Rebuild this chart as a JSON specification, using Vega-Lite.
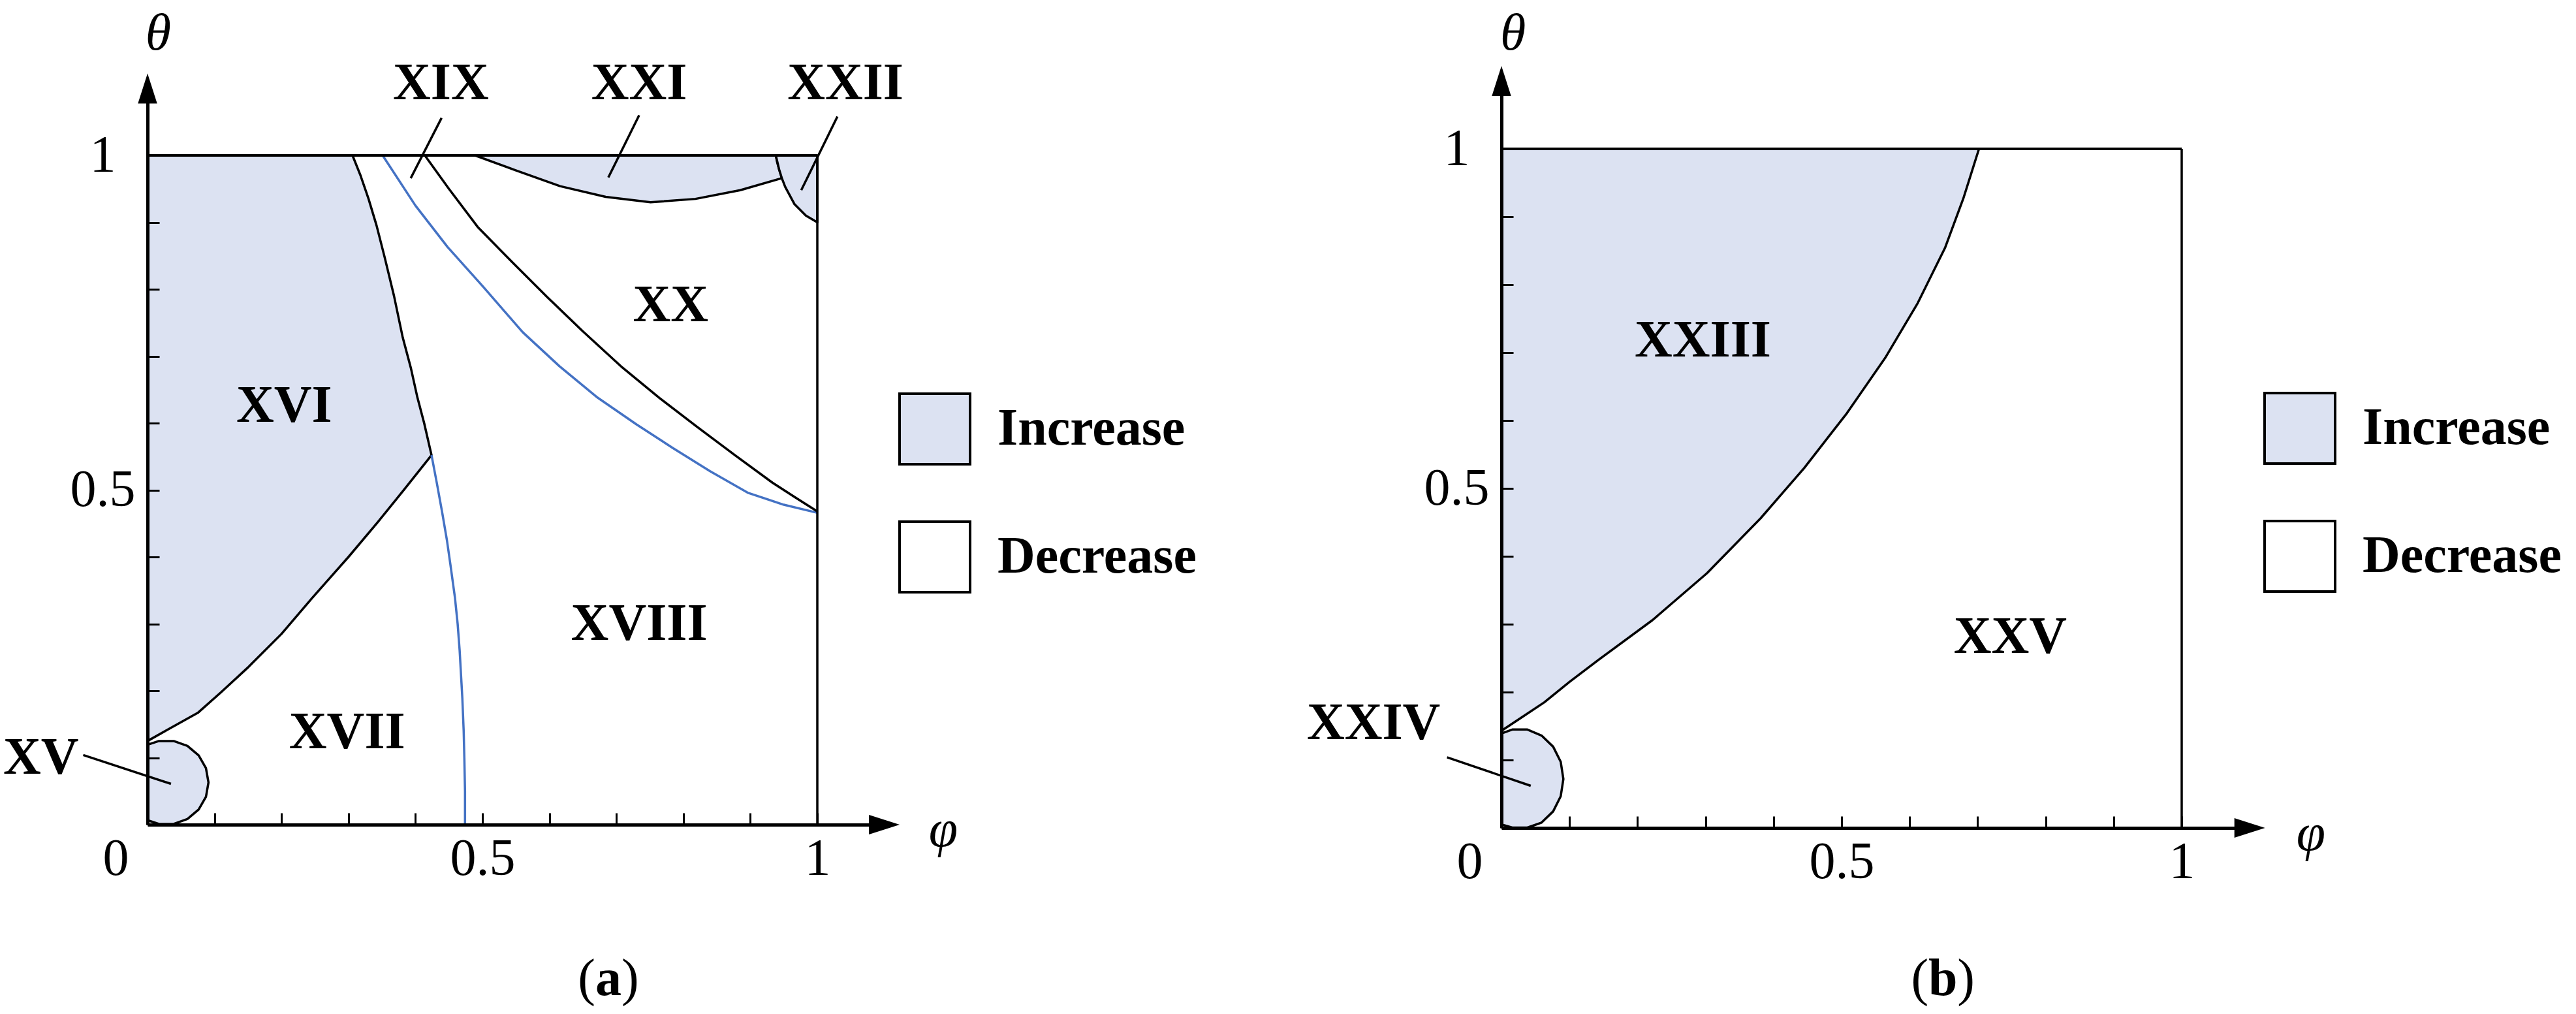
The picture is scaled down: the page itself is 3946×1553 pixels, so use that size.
{
  "$schema": "https://vega.github.io/schema/vega-lite/v6.json",
  "width": 3946,
  "height": 1553,
  "autosize": {"type": "none"},
  "padding": 0,
  "background": "white",
  "config": {"view": {"stroke": null}},
  "datasets": {
    "one": [{}],
    "a_poly": [
      {"id": "XVI", "i": 0, "x": 0, "y": 0.125, "effect": "Increase"},
      {"id": "XVI", "i": 1, "x": 0.03, "y": 0.142, "effect": "Increase"},
      {"id": "XVI", "i": 2, "x": 0.075, "y": 0.167, "effect": "Increase"},
      {"id": "XVI", "i": 3, "x": 0.11, "y": 0.198, "effect": "Increase"},
      {"id": "XVI", "i": 4, "x": 0.149, "y": 0.234, "effect": "Increase"},
      {"id": "XVI", "i": 5, "x": 0.2, "y": 0.285, "effect": "Increase"},
      {"id": "XVI", "i": 6, "x": 0.246, "y": 0.339, "effect": "Increase"},
      {"id": "XVI", "i": 7, "x": 0.3, "y": 0.4, "effect": "Increase"},
      {"id": "XVI", "i": 8, "x": 0.343, "y": 0.451, "effect": "Increase"},
      {"id": "XVI", "i": 9, "x": 0.385, "y": 0.503, "effect": "Increase"},
      {"id": "XVI", "i": 10, "x": 0.424, "y": 0.552, "effect": "Increase"},
      {"id": "XVI", "i": 11, "x": 0.413, "y": 0.6, "effect": "Increase"},
      {"id": "XVI", "i": 12, "x": 0.403, "y": 0.638, "effect": "Increase"},
      {"id": "XVI", "i": 13, "x": 0.393, "y": 0.683, "effect": "Increase"},
      {"id": "XVI", "i": 14, "x": 0.381, "y": 0.728, "effect": "Increase"},
      {"id": "XVI", "i": 15, "x": 0.368, "y": 0.79, "effect": "Increase"},
      {"id": "XVI", "i": 16, "x": 0.354, "y": 0.848, "effect": "Increase"},
      {"id": "XVI", "i": 17, "x": 0.342, "y": 0.895, "effect": "Increase"},
      {"id": "XVI", "i": 18, "x": 0.33, "y": 0.935, "effect": "Increase"},
      {"id": "XVI", "i": 19, "x": 0.318, "y": 0.97, "effect": "Increase"},
      {"id": "XVI", "i": 20, "x": 0.306, "y": 1.0, "effect": "Increase"},
      {"id": "XVI", "i": 21, "x": 0, "y": 1.0, "effect": "Increase"},
      {"id": "XVI", "i": 22, "x": 0, "y": 0.125, "effect": "Increase"},
      {"id": "XV", "i": 0, "x": 0, "y": 0.1194, "effect": "Increase"},
      {"id": "XV", "i": 1, "x": 0.017, "y": 0.125, "effect": "Increase"},
      {"id": "XV", "i": 2, "x": 0.039, "y": 0.125, "effect": "Increase"},
      {"id": "XV", "i": 3, "x": 0.0595, "y": 0.1176, "effect": "Increase"},
      {"id": "XV", "i": 4, "x": 0.0763, "y": 0.1035, "effect": "Increase"},
      {"id": "XV", "i": 5, "x": 0.0872, "y": 0.0845, "effect": "Increase"},
      {"id": "XV", "i": 6, "x": 0.091, "y": 0.063, "effect": "Increase"},
      {"id": "XV", "i": 7, "x": 0.0872, "y": 0.0415, "effect": "Increase"},
      {"id": "XV", "i": 8, "x": 0.0763, "y": 0.0225, "effect": "Increase"},
      {"id": "XV", "i": 9, "x": 0.0595, "y": 0.0084, "effect": "Increase"},
      {"id": "XV", "i": 10, "x": 0.039, "y": 0.001, "effect": "Increase"},
      {"id": "XV", "i": 11, "x": 0.017, "y": 0.001, "effect": "Increase"},
      {"id": "XV", "i": 12, "x": 0, "y": 0.0066, "effect": "Increase"},
      {"id": "XV", "i": 13, "x": 0, "y": 0.1194, "effect": "Increase"},
      {"id": "XXI", "i": 0, "x": 0.489, "y": 1.0, "effect": "Increase"},
      {"id": "XXI", "i": 1, "x": 0.549, "y": 0.978, "effect": "Increase"},
      {"id": "XXI", "i": 2, "x": 0.616, "y": 0.954, "effect": "Increase"},
      {"id": "XXI", "i": 3, "x": 0.684, "y": 0.938, "effect": "Increase"},
      {"id": "XXI", "i": 4, "x": 0.751, "y": 0.93, "effect": "Increase"},
      {"id": "XXI", "i": 5, "x": 0.818, "y": 0.935, "effect": "Increase"},
      {"id": "XXI", "i": 6, "x": 0.885, "y": 0.948, "effect": "Increase"},
      {"id": "XXI", "i": 7, "x": 0.947, "y": 0.966, "effect": "Increase"},
      {"id": "XXI", "i": 8, "x": 0.943, "y": 0.979, "effect": "Increase"},
      {"id": "XXI", "i": 9, "x": 0.94, "y": 0.99, "effect": "Increase"},
      {"id": "XXI", "i": 10, "x": 0.938, "y": 1.0, "effect": "Increase"},
      {"id": "XXI", "i": 11, "x": 0.489, "y": 1.0, "effect": "Increase"},
      {"id": "XXII", "i": 0, "x": 0.938, "y": 1.0, "effect": "Increase"},
      {"id": "XXII", "i": 1, "x": 0.943, "y": 0.979, "effect": "Increase"},
      {"id": "XXII", "i": 2, "x": 0.947, "y": 0.966, "effect": "Increase"},
      {"id": "XXII", "i": 3, "x": 0.952, "y": 0.953, "effect": "Increase"},
      {"id": "XXII", "i": 4, "x": 0.966, "y": 0.927, "effect": "Increase"},
      {"id": "XXII", "i": 5, "x": 0.983, "y": 0.91, "effect": "Increase"},
      {"id": "XXII", "i": 6, "x": 1.0, "y": 0.9, "effect": "Increase"},
      {"id": "XXII", "i": 7, "x": 1.0, "y": 1.0, "effect": "Increase"},
      {"id": "XXII", "i": 8, "x": 0.938, "y": 1.0, "effect": "Increase"}
    ],
    "a_curves": [
      {"id": "C", "i": 0, "x": 0.424, "y": 0.552},
      {"id": "C", "i": 1, "x": 0.432, "y": 0.51},
      {"id": "C", "i": 2, "x": 0.44, "y": 0.466},
      {"id": "C", "i": 3, "x": 0.447, "y": 0.425},
      {"id": "C", "i": 4, "x": 0.452, "y": 0.39},
      {"id": "C", "i": 5, "x": 0.459, "y": 0.339},
      {"id": "C", "i": 6, "x": 0.463, "y": 0.3},
      {"id": "C", "i": 7, "x": 0.466, "y": 0.26},
      {"id": "C", "i": 8, "x": 0.47, "y": 0.189},
      {"id": "C", "i": 9, "x": 0.472, "y": 0.14},
      {"id": "C", "i": 10, "x": 0.473, "y": 0.1},
      {"id": "C", "i": 11, "x": 0.474, "y": 0.05},
      {"id": "C", "i": 12, "x": 0.474, "y": 0},
      {"id": "D", "i": 0, "x": 0.351, "y": 1.0},
      {"id": "D", "i": 1, "x": 0.4, "y": 0.925},
      {"id": "D", "i": 2, "x": 0.448, "y": 0.863},
      {"id": "D", "i": 3, "x": 0.5, "y": 0.805},
      {"id": "D", "i": 4, "x": 0.56, "y": 0.736},
      {"id": "D", "i": 5, "x": 0.615, "y": 0.685},
      {"id": "D", "i": 6, "x": 0.672, "y": 0.638},
      {"id": "D", "i": 7, "x": 0.73, "y": 0.598},
      {"id": "D", "i": 8, "x": 0.784, "y": 0.563},
      {"id": "D", "i": 9, "x": 0.84, "y": 0.528},
      {"id": "D", "i": 10, "x": 0.896, "y": 0.496},
      {"id": "D", "i": 11, "x": 0.95, "y": 0.478},
      {"id": "D", "i": 12, "x": 1.0, "y": 0.466},
      {"id": "E", "i": 0, "x": 0.414, "y": 1.0},
      {"id": "E", "i": 1, "x": 0.45, "y": 0.95},
      {"id": "E", "i": 2, "x": 0.493, "y": 0.893},
      {"id": "E", "i": 3, "x": 0.545, "y": 0.84},
      {"id": "E", "i": 4, "x": 0.597, "y": 0.788},
      {"id": "E", "i": 5, "x": 0.65, "y": 0.737},
      {"id": "E", "i": 6, "x": 0.709, "y": 0.683},
      {"id": "E", "i": 7, "x": 0.765, "y": 0.637},
      {"id": "E", "i": 8, "x": 0.821, "y": 0.594},
      {"id": "E", "i": 9, "x": 0.877, "y": 0.552},
      {"id": "E", "i": 10, "x": 0.933, "y": 0.511},
      {"id": "E", "i": 11, "x": 0.97, "y": 0.487},
      {"id": "E", "i": 12, "x": 1.0, "y": 0.468}
    ],
    "a_labels": [
      {"label": "XVI", "x": 0.204, "y": 0.625},
      {"label": "XX", "x": 0.781, "y": 0.776},
      {"label": "XVIII", "x": 0.734, "y": 0.3},
      {"label": "XVII", "x": 0.298, "y": 0.138},
      {"label": "XV", "x": -0.159, "y": 0.1},
      {"label": "XIX", "x": 0.438, "y": 1.107},
      {"label": "XXI", "x": 0.734, "y": 1.107},
      {"label": "XXII", "x": 1.042, "y": 1.107}
    ],
    "a_leaders": [
      {"x": -0.096, "y": 0.104, "x2": 0.035, "y2": 0.061},
      {"x": 0.439, "y": 1.056, "x2": 0.393, "y2": 0.966},
      {"x": 0.734, "y": 1.06, "x2": 0.688, "y2": 0.967},
      {"x": 1.03, "y": 1.058, "x2": 0.976, "y2": 0.948}
    ],
    "b_poly": [
      {"id": "XXIII", "i": 0, "x": 0, "y": 0.143, "effect": "Increase"},
      {"id": "XXIII", "i": 1, "x": 0.03, "y": 0.163, "effect": "Increase"},
      {"id": "XXIII", "i": 2, "x": 0.063, "y": 0.185, "effect": "Increase"},
      {"id": "XXIII", "i": 3, "x": 0.1, "y": 0.215, "effect": "Increase"},
      {"id": "XXIII", "i": 4, "x": 0.142, "y": 0.247, "effect": "Increase"},
      {"id": "XXIII", "i": 5, "x": 0.222, "y": 0.306, "effect": "Increase"},
      {"id": "XXIII", "i": 6, "x": 0.302, "y": 0.375, "effect": "Increase"},
      {"id": "XXIII", "i": 7, "x": 0.381, "y": 0.456, "effect": "Increase"},
      {"id": "XXIII", "i": 8, "x": 0.445, "y": 0.53, "effect": "Increase"},
      {"id": "XXIII", "i": 9, "x": 0.508, "y": 0.611, "effect": "Increase"},
      {"id": "XXIII", "i": 10, "x": 0.564, "y": 0.692, "effect": "Increase"},
      {"id": "XXIII", "i": 11, "x": 0.612, "y": 0.773, "effect": "Increase"},
      {"id": "XXIII", "i": 12, "x": 0.652, "y": 0.854, "effect": "Increase"},
      {"id": "XXIII", "i": 13, "x": 0.679, "y": 0.927, "effect": "Increase"},
      {"id": "XXIII", "i": 14, "x": 0.702, "y": 1.0, "effect": "Increase"},
      {"id": "XXIII", "i": 15, "x": 0, "y": 1.0, "effect": "Increase"},
      {"id": "XXIII", "i": 16, "x": 0, "y": 0.143, "effect": "Increase"},
      {"id": "XXIV", "i": 0, "x": 0, "y": 0.139, "effect": "Increase"},
      {"id": "XXIV", "i": 1, "x": 0.0159, "y": 0.1449, "effect": "Increase"},
      {"id": "XXIV", "i": 2, "x": 0.0381, "y": 0.1449, "effect": "Increase"},
      {"id": "XXIV", "i": 3, "x": 0.059, "y": 0.136, "effect": "Increase"},
      {"id": "XXIV", "i": 4, "x": 0.076, "y": 0.1196, "effect": "Increase"},
      {"id": "XXIV", "i": 5, "x": 0.0871, "y": 0.0973, "effect": "Increase"},
      {"id": "XXIV", "i": 6, "x": 0.091, "y": 0.072, "effect": "Increase"},
      {"id": "XXIV", "i": 7, "x": 0.0871, "y": 0.0467, "effect": "Increase"},
      {"id": "XXIV", "i": 8, "x": 0.076, "y": 0.0244, "effect": "Increase"},
      {"id": "XXIV", "i": 9, "x": 0.059, "y": 0.0079, "effect": "Increase"},
      {"id": "XXIV", "i": 10, "x": 0.0381, "y": 0.0005, "effect": "Increase"},
      {"id": "XXIV", "i": 11, "x": 0.0159, "y": 0.0005, "effect": "Increase"},
      {"id": "XXIV", "i": 12, "x": 0, "y": 0.005, "effect": "Increase"},
      {"id": "XXIV", "i": 13, "x": 0, "y": 0.139, "effect": "Increase"}
    ],
    "b_labels": [
      {"label": "XXIII", "x": 0.296, "y": 0.717},
      {"label": "XXV", "x": 0.748, "y": 0.281},
      {"label": "XXIV", "x": -0.188, "y": 0.154}
    ],
    "b_leaders": [
      {"x": -0.08, "y": 0.104, "x2": 0.043, "y2": 0.062}
    ]
  },
  "layer": [
    {
      "layer": [
        {
          "data": {"name": "a_poly"},
          "mark": {"type": "line", "stroke": "black", "strokeWidth": 3.5, "strokeJoin": "round"},
          "encoding": {
            "x": {"field": "x", "type": "quantitative", "scale": {"domain": [0, 1.1], "range": [226, 1354.6], "nice": false, "zero": false},
              "axis": {"orient": "bottom", "offset": -290, "values": [0, 0.1, 0.2, 0.3, 0.4, 0.5, 0.6, 0.7, 0.8, 0.9, 1], "labelExpr": "datum.value == 0 ? '0' : datum.value == 0.5 ? '0.5' : datum.value == 1 ? '1' : ''", "title": null, "grid": false, "tickSize": -18, "tickWidth": 3, "tickColor": "black", "domainColor": "black", "domainWidth": 5, "labelFont": "Liberation Serif", "labelFontSize": 80, "labelColor": "black", "labelPadding": 31, "labelBaseline": "top", "labelAlign": "center", "labelOffset": {"condition": {"test": "datum.value == 0", "value": -49}, "value": 0}, "labelFlush": false, "labelOverlap": false, "labelBound": false, "zindex": 1}},
            "y": {"field": "y", "type": "quantitative", "scale": {"domain": [0, 1.1], "range": [1263, 135.5], "nice": false, "zero": false},
              "axis": {"orient": "left", "offset": -226, "values": [0, 0.1, 0.2, 0.3, 0.4, 0.5, 0.6, 0.7, 0.8, 0.9, 1], "labelExpr": "datum.value == 0.5 ? '0.5' : datum.value == 1 ? '1' : ''", "title": null, "grid": false, "tickSize": -18, "tickWidth": 3, "tickColor": "black", "domainColor": "black", "domainWidth": 5, "labelFont": "Liberation Serif", "labelFontSize": 80, "labelColor": "black", "labelPadding": 87, "labelAlign": "center", "labelBaseline": "middle", "labelFlush": false, "labelOverlap": false, "labelBound": false, "zindex": 1}},
            "order": {"field": "i", "type": "quantitative"},
            "detail": {"field": "id", "type": "nominal"},
            "fill": {"field": "effect", "type": "nominal", "scale": {"domain": ["Increase", "Decrease"], "range": ["#dce2f2", "#ffffff"]},
              "legend": {"orient": "none", "legendX": 1376, "legendY": 601, "title": null, "symbolType": "square", "symbolSize": 11664, "symbolStrokeColor": "black", "symbolStrokeWidth": 4, "symbolOpacity": 1, "labelFont": "Liberation Serif", "labelFontSize": 80, "labelFontWeight": "bold", "labelColor": "black", "labelOffset": 40, "labelLimit": 600, "rowPadding": 72, "padding": 0}}
          }
        },
        {
          "data": {"name": "a_curves"},
          "mark": {"type": "line", "strokeWidth": 3.5, "strokeJoin": "round"},
          "encoding": {
            "x": {"field": "x", "type": "quantitative", "scale": {"domain": [0, 1.1], "range": [226, 1354.6], "nice": false, "zero": false}, "axis": {"title": null}},
            "y": {"field": "y", "type": "quantitative", "scale": {"domain": [0, 1.1], "range": [1263, 135.5], "nice": false, "zero": false}, "axis": {"title": null}},
            "order": {"field": "i", "type": "quantitative"},
            "stroke": {"field": "id", "type": "nominal", "scale": {"domain": ["C", "D", "E"], "range": ["#4472c4", "#4472c4", "#000000"]}, "legend": null}
          }
        },
        {
          "data": {"name": "a_leaders"},
          "mark": {"type": "rule", "color": "black", "strokeWidth": 3.5},
          "encoding": {
            "x": {"field": "x", "type": "quantitative", "scale": {"domain": [0, 1.1], "range": [226, 1354.6], "nice": false, "zero": false}, "axis": {"title": null}},
            "y": {"field": "y", "type": "quantitative", "scale": {"domain": [0, 1.1], "range": [1263, 135.5], "nice": false, "zero": false}, "axis": {"title": null}},
            "x2": {"field": "x2"},
            "y2": {"field": "y2"}
          }
        },
        {
          "data": {"name": "one"},
          "mark": {"type": "rule", "color": "black", "strokeWidth": 4},
          "encoding": {
            "x": {"datum": 0, "type": "quantitative", "scale": {"domain": [0, 1.1], "range": [226, 1354.6], "nice": false, "zero": false}, "axis": {"title": null}},
            "x2": {"datum": 1},
            "y": {"datum": 1, "type": "quantitative", "scale": {"domain": [0, 1.1], "range": [1263, 135.5], "nice": false, "zero": false}, "axis": {"title": null}}
          }
        },
        {
          "data": {"name": "one"},
          "mark": {"type": "rule", "color": "black", "strokeWidth": 3.5},
          "encoding": {
            "x": {"datum": 1, "type": "quantitative", "scale": {"domain": [0, 1.1], "range": [226, 1354.6], "nice": false, "zero": false}, "axis": {"title": null}},
            "y": {"datum": 0, "type": "quantitative", "scale": {"domain": [0, 1.1], "range": [1263, 135.5], "nice": false, "zero": false}, "axis": {"title": null}},
            "y2": {"datum": 1}
          }
        },
        {
          "data": {"name": "one"},
          "mark": {"type": "point", "shape": "M-1,-0.64L1,0L-1,0.64Z", "size": 2209, "filled": true, "color": "black", "opacity": 1, "strokeWidth": 0},
          "encoding": {
            "x": {"datum": 1.1, "type": "quantitative", "scale": {"domain": [0, 1.1], "range": [226, 1354.6], "nice": false, "zero": false}, "axis": {"title": null}},
            "y": {"datum": 0, "type": "quantitative", "scale": {"domain": [0, 1.1], "range": [1263, 135.5], "nice": false, "zero": false}, "axis": {"title": null}}
          }
        },
        {
          "data": {"name": "one"},
          "mark": {"type": "point", "shape": "M-0.64,1L0,-1L0.64,1Z", "size": 2116, "filled": true, "color": "black", "opacity": 1, "strokeWidth": 0},
          "encoding": {
            "x": {"datum": 0, "type": "quantitative", "scale": {"domain": [0, 1.1], "range": [226, 1354.6], "nice": false, "zero": false}, "axis": {"title": null}},
            "y": {"datum": 1.1, "type": "quantitative", "scale": {"domain": [0, 1.1], "range": [1263, 135.5], "nice": false, "zero": false}, "axis": {"title": null}}
          }
        },
        {
          "data": {"name": "a_labels"},
          "mark": {"type": "text", "font": "Liberation Serif", "fontSize": 80, "fontWeight": "bold", "align": "center", "baseline": "middle", "fill": "black"},
          "encoding": {
            "x": {"field": "x", "type": "quantitative", "scale": {"domain": [0, 1.1], "range": [226, 1354.6], "nice": false, "zero": false}, "axis": {"title": null}},
            "y": {"field": "y", "type": "quantitative", "scale": {"domain": [0, 1.1], "range": [1263, 135.5], "nice": false, "zero": false}, "axis": {"title": null}},
            "text": {"field": "label"}
          }
        },
        {
          "data": {"name": "one"},
          "mark": {"type": "text", "text": "θ", "font": "Liberation Serif", "fontSize": 80, "fontStyle": "italic", "align": "center", "baseline": "middle", "fill": "black"},
          "encoding": {
            "x": {"datum": 0.016, "type": "quantitative", "scale": {"domain": [0, 1.1], "range": [226, 1354.6], "nice": false, "zero": false}, "axis": {"title": null}},
            "y": {"datum": 1.181, "type": "quantitative", "scale": {"domain": [0, 1.1], "range": [1263, 135.5], "nice": false, "zero": false}, "axis": {"title": null}}
          }
        },
        {
          "data": {"name": "one"},
          "mark": {"type": "text", "text": "φ", "font": "Liberation Serif", "fontSize": 80, "fontStyle": "italic", "align": "center", "baseline": "middle", "fill": "black"},
          "encoding": {
            "x": {"datum": 1.188, "type": "quantitative", "scale": {"domain": [0, 1.1], "range": [226, 1354.6], "nice": false, "zero": false}, "axis": {"title": null}},
            "y": {"datum": -0.009, "type": "quantitative", "scale": {"domain": [0, 1.1], "range": [1263, 135.5], "nice": false, "zero": false}, "axis": {"title": null}}
          }
        },
        {
          "data": {"name": "one"},
          "mark": {"type": "text", "text": "a", "font": "Liberation Serif", "fontSize": 80, "fontWeight": "bold", "align": "center", "baseline": "middle", "fill": "black"},
          "encoding": {
            "x": {"datum": 0.688, "type": "quantitative", "scale": {"domain": [0, 1.1], "range": [226, 1354.6], "nice": false, "zero": false}, "axis": {"title": null}},
            "y": {"datum": -0.231, "type": "quantitative", "scale": {"domain": [0, 1.1], "range": [1263, 135.5], "nice": false, "zero": false}, "axis": {"title": null}}
          }
        },
        {
          "data": {"name": "one"},
          "mark": {"type": "text", "text": "(", "font": "Liberation Serif", "fontSize": 80, "align": "right", "dx": -20, "baseline": "middle", "fill": "black"},
          "encoding": {
            "x": {"datum": 0.688, "type": "quantitative", "scale": {"domain": [0, 1.1], "range": [226, 1354.6], "nice": false, "zero": false}, "axis": {"title": null}},
            "y": {"datum": -0.231, "type": "quantitative", "scale": {"domain": [0, 1.1], "range": [1263, 135.5], "nice": false, "zero": false}, "axis": {"title": null}}
          }
        },
        {
          "data": {"name": "one"},
          "mark": {"type": "text", "text": ")", "font": "Liberation Serif", "fontSize": 80, "align": "left", "dx": 20, "baseline": "middle", "fill": "black"},
          "encoding": {
            "x": {"datum": 0.688, "type": "quantitative", "scale": {"domain": [0, 1.1], "range": [226, 1354.6], "nice": false, "zero": false}, "axis": {"title": null}},
            "y": {"datum": -0.231, "type": "quantitative", "scale": {"domain": [0, 1.1], "range": [1263, 135.5], "nice": false, "zero": false}, "axis": {"title": null}}
          }
        }
      ]
    },
    {
      "layer": [
        {
          "data": {"name": "b_poly"},
          "mark": {"type": "line", "stroke": "black", "strokeWidth": 3.5, "strokeJoin": "round"},
          "encoding": {
            "x": {"field": "x", "type": "quantitative", "scale": {"domain": [0, 1.1], "range": [2300, 3446.2], "nice": false, "zero": false},
              "axis": {"orient": "bottom", "offset": -285, "values": [0, 0.1, 0.2, 0.3, 0.4, 0.5, 0.6, 0.7, 0.8, 0.9, 1], "labelExpr": "datum.value == 0 ? '0' : datum.value == 0.5 ? '0.5' : datum.value == 1 ? '1' : ''", "title": null, "grid": false, "tickSize": -18, "tickWidth": 3, "tickColor": "black", "domainColor": "black", "domainWidth": 5, "labelFont": "Liberation Serif", "labelFontSize": 80, "labelColor": "black", "labelPadding": 31, "labelBaseline": "top", "labelAlign": "center", "labelOffset": {"condition": {"test": "datum.value == 0", "value": -49}, "value": 0}, "labelFlush": false, "labelOverlap": false, "labelBound": false, "zindex": 1}},
            "y": {"field": "y", "type": "quantitative", "scale": {"domain": [0, 1.1], "range": [1268, 124], "nice": false, "zero": false},
              "axis": {"orient": "left", "offset": -2300, "values": [0, 0.1, 0.2, 0.3, 0.4, 0.5, 0.6, 0.7, 0.8, 0.9, 1], "labelExpr": "datum.value == 0.5 ? '0.5' : datum.value == 1 ? '1' : ''", "title": null, "grid": false, "tickSize": -18, "tickWidth": 3, "tickColor": "black", "domainColor": "black", "domainWidth": 5, "labelFont": "Liberation Serif", "labelFontSize": 80, "labelColor": "black", "labelPadding": 87, "labelAlign": "center", "labelBaseline": "middle", "labelFlush": false, "labelOverlap": false, "labelBound": false, "zindex": 1}},
            "order": {"field": "i", "type": "quantitative"},
            "detail": {"field": "id", "type": "nominal"},
            "fill": {"field": "effect", "type": "nominal", "scale": {"domain": ["Increase", "Decrease"], "range": ["#dce2f2", "#ffffff"]},
              "legend": {"orient": "none", "legendX": 3467, "legendY": 600, "title": null, "symbolType": "square", "symbolSize": 11664, "symbolStrokeColor": "black", "symbolStrokeWidth": 4, "symbolOpacity": 1, "labelFont": "Liberation Serif", "labelFontSize": 80, "labelFontWeight": "bold", "labelColor": "black", "labelOffset": 40, "labelLimit": 600, "rowPadding": 72, "padding": 0}}
          }
        },
        {
          "data": {"name": "b_leaders"},
          "mark": {"type": "rule", "color": "black", "strokeWidth": 3.5},
          "encoding": {
            "x": {"field": "x", "type": "quantitative", "scale": {"domain": [0, 1.1], "range": [2300, 3446.2], "nice": false, "zero": false}, "axis": {"title": null}},
            "y": {"field": "y", "type": "quantitative", "scale": {"domain": [0, 1.1], "range": [1268, 124], "nice": false, "zero": false}, "axis": {"title": null}},
            "x2": {"field": "x2"},
            "y2": {"field": "y2"}
          }
        },
        {
          "data": {"name": "one"},
          "mark": {"type": "rule", "color": "black", "strokeWidth": 4},
          "encoding": {
            "x": {"datum": 0, "type": "quantitative", "scale": {"domain": [0, 1.1], "range": [2300, 3446.2], "nice": false, "zero": false}, "axis": {"title": null}},
            "x2": {"datum": 1},
            "y": {"datum": 1, "type": "quantitative", "scale": {"domain": [0, 1.1], "range": [1268, 124], "nice": false, "zero": false}, "axis": {"title": null}}
          }
        },
        {
          "data": {"name": "one"},
          "mark": {"type": "rule", "color": "black", "strokeWidth": 3.5},
          "encoding": {
            "x": {"datum": 1, "type": "quantitative", "scale": {"domain": [0, 1.1], "range": [2300, 3446.2], "nice": false, "zero": false}, "axis": {"title": null}},
            "y": {"datum": 0, "type": "quantitative", "scale": {"domain": [0, 1.1], "range": [1268, 124], "nice": false, "zero": false}, "axis": {"title": null}},
            "y2": {"datum": 1}
          }
        },
        {
          "data": {"name": "one"},
          "mark": {"type": "point", "shape": "M-1,-0.64L1,0L-1,0.64Z", "size": 2209, "filled": true, "color": "black", "opacity": 1, "strokeWidth": 0},
          "encoding": {
            "x": {"datum": 1.1, "type": "quantitative", "scale": {"domain": [0, 1.1], "range": [2300, 3446.2], "nice": false, "zero": false}, "axis": {"title": null}},
            "y": {"datum": 0, "type": "quantitative", "scale": {"domain": [0, 1.1], "range": [1268, 124], "nice": false, "zero": false}, "axis": {"title": null}}
          }
        },
        {
          "data": {"name": "one"},
          "mark": {"type": "point", "shape": "M-0.64,1L0,-1L0.64,1Z", "size": 2116, "filled": true, "color": "black", "opacity": 1, "strokeWidth": 0},
          "encoding": {
            "x": {"datum": 0, "type": "quantitative", "scale": {"domain": [0, 1.1], "range": [2300, 3446.2], "nice": false, "zero": false}, "axis": {"title": null}},
            "y": {"datum": 1.1, "type": "quantitative", "scale": {"domain": [0, 1.1], "range": [1268, 124], "nice": false, "zero": false}, "axis": {"title": null}}
          }
        },
        {
          "data": {"name": "b_labels"},
          "mark": {"type": "text", "font": "Liberation Serif", "fontSize": 80, "fontWeight": "bold", "align": "center", "baseline": "middle", "fill": "black"},
          "encoding": {
            "x": {"field": "x", "type": "quantitative", "scale": {"domain": [0, 1.1], "range": [2300, 3446.2], "nice": false, "zero": false}, "axis": {"title": null}},
            "y": {"field": "y", "type": "quantitative", "scale": {"domain": [0, 1.1], "range": [1268, 124], "nice": false, "zero": false}, "axis": {"title": null}},
            "text": {"field": "label"}
          }
        },
        {
          "data": {"name": "one"},
          "mark": {"type": "text", "text": "θ", "font": "Liberation Serif", "fontSize": 80, "fontStyle": "italic", "align": "center", "baseline": "middle", "fill": "black"},
          "encoding": {
            "x": {"datum": 0.017, "type": "quantitative", "scale": {"domain": [0, 1.1], "range": [2300, 3446.2], "nice": false, "zero": false}, "axis": {"title": null}},
            "y": {"datum": 1.169, "type": "quantitative", "scale": {"domain": [0, 1.1], "range": [1268, 124], "nice": false, "zero": false}, "axis": {"title": null}}
          }
        },
        {
          "data": {"name": "one"},
          "mark": {"type": "text", "text": "φ", "font": "Liberation Serif", "fontSize": 80, "fontStyle": "italic", "align": "center", "baseline": "middle", "fill": "black"},
          "encoding": {
            "x": {"datum": 1.19, "type": "quantitative", "scale": {"domain": [0, 1.1], "range": [2300, 3446.2], "nice": false, "zero": false}, "axis": {"title": null}},
            "y": {"datum": -0.01, "type": "quantitative", "scale": {"domain": [0, 1.1], "range": [1268, 124], "nice": false, "zero": false}, "axis": {"title": null}}
          }
        },
        {
          "data": {"name": "one"},
          "mark": {"type": "text", "text": "b", "font": "Liberation Serif", "fontSize": 80, "fontWeight": "bold", "align": "center", "baseline": "middle", "fill": "black"},
          "encoding": {
            "x": {"datum": 0.649, "type": "quantitative", "scale": {"domain": [0, 1.1], "range": [2300, 3446.2], "nice": false, "zero": false}, "axis": {"title": null}},
            "y": {"datum": -0.223, "type": "quantitative", "scale": {"domain": [0, 1.1], "range": [1268, 124], "nice": false, "zero": false}, "axis": {"title": null}}
          }
        },
        {
          "data": {"name": "one"},
          "mark": {"type": "text", "text": "(", "font": "Liberation Serif", "fontSize": 80, "align": "right", "dx": -22, "baseline": "middle", "fill": "black"},
          "encoding": {
            "x": {"datum": 0.649, "type": "quantitative", "scale": {"domain": [0, 1.1], "range": [2300, 3446.2], "nice": false, "zero": false}, "axis": {"title": null}},
            "y": {"datum": -0.223, "type": "quantitative", "scale": {"domain": [0, 1.1], "range": [1268, 124], "nice": false, "zero": false}, "axis": {"title": null}}
          }
        },
        {
          "data": {"name": "one"},
          "mark": {"type": "text", "text": ")", "font": "Liberation Serif", "fontSize": 80, "align": "left", "dx": 22, "baseline": "middle", "fill": "black"},
          "encoding": {
            "x": {"datum": 0.649, "type": "quantitative", "scale": {"domain": [0, 1.1], "range": [2300, 3446.2], "nice": false, "zero": false}, "axis": {"title": null}},
            "y": {"datum": -0.223, "type": "quantitative", "scale": {"domain": [0, 1.1], "range": [1268, 124], "nice": false, "zero": false}, "axis": {"title": null}}
          }
        }
      ]
    }
  ],
  "resolve": {
    "scale": {"x": "independent", "y": "independent", "fill": "independent"},
    "axis": {"x": "independent", "y": "independent"},
    "legend": {"fill": "independent"}
  }
}
